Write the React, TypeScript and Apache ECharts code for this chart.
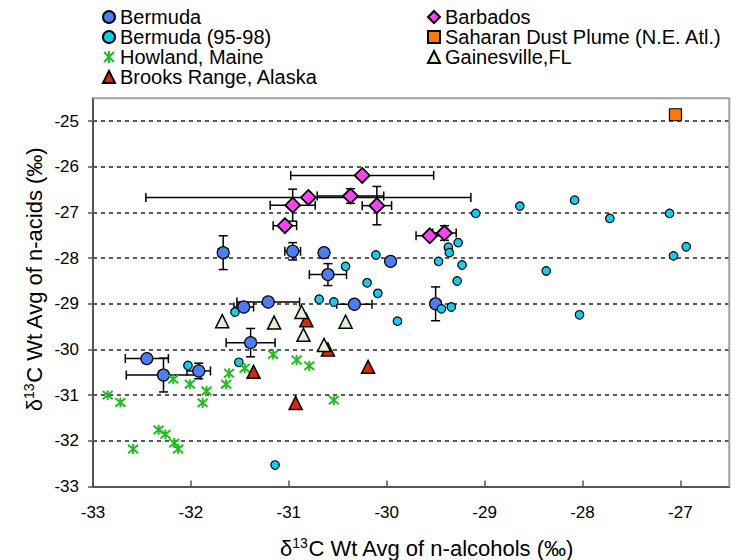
import React, { useEffect, useRef } from "react";
import * as echarts from "echarts";

// ---- data ----
const bermudaX = [-31.67, -30.96, -30.64, -29.96, -30.6, -31.21, -31.46, -30.33, -31.39, -32.45, -32.28, -31.92, -29.5];
const bermudaY = [-27.88, -27.85, -27.88, -28.07, -28.36, -28.96, -29.07, -29.01, -29.85, -30.2, -30.56, -30.47, -29.0];
const bermudaXErr = [0.05, 0.08, 0, 0, 0.19, 0.32, 0.1, 0.18, 0.25, 0.22, 0.38, 0.12, 0];
const bermudaYErr = [0.37, 0.19, 0, 0, 0.24, 0, 0, 0, 0.31, 0, 0.37, 0.17, 0.37];

const bermuda9598X = [-30.11, -30.42, -29.09, -28.64, -28.08, -27.72, -27.11, -26.94, -27.07, -29.27, -29.37, -29.36, -29.47, -29.23, -28.37, -29.28, -29.89, -29.44, -29.34, -28.03, -30.2, -30.09, -30.69, -30.54, -31.55, -31.51, -32.03, -31.14];
const bermuda9598Y = [-27.93, -28.18, -27.02, -26.86, -26.73, -27.13, -27.02, -27.75, -27.95, -27.66, -27.76, -27.88, -28.07, -28.15, -28.28, -28.5, -29.38, -29.11, -29.07, -29.24, -28.54, -28.77, -28.9, -28.96, -29.18, -30.28, -30.35, -32.53];

const howlandX = [-32.85, -32.72, -32.59, -32.33, -32.26, -32.17, -32.13, -32.18, -32.01, -31.84, -31.88, -31.64, -31.61, -31.45, -31.16, -30.92, -30.79, -30.54];
const howlandY = [-31.0, -31.16, -32.18, -31.76, -31.86, -32.05, -32.18, -30.65, -30.76, -30.91, -31.17, -30.76, -30.52, -30.41, -30.11, -30.23, -30.36, -31.11];

const brooksX = [-30.82, -30.6, -31.36, -30.19, -30.93];
const brooksY = [-29.36, -30.0, -30.49, -30.38, -31.17];

const barbadosX = [-30.25, -30.8, -30.37, -30.1, -30.96, -31.04, -29.56, -29.41];
const barbadosY = [-26.19, -26.67, -26.64, -26.85, -26.84, -27.29, -27.51, -27.45];
const barbadosXErr = [0.73, 1.66, 0.34, 0.15, 0.23, 0.12, 0.14, 0.12];
const barbadosYErr = [0, 0, 0.16, 0.42, 0.35, 0, 0, 0.16];

const saharanX = [-27.05];
const saharanY = [-24.86];

const gainesvilleX = [-31.68, -31.15, -30.87, -30.85, -30.42, -30.64];
const gainesvilleY = [-29.38, -29.41, -29.18, -29.68, -29.39, -29.9];

const xTicks = [-33, -32, -31, -30, -29, -28, -27];
const yTicks = [-33, -32, -31, -30, -29, -28, -27, -26, -25];

const FONT = "'Liberation Sans', Arial, Helvetica, sans-serif";

const zip = (xs: number[], ys: number[]) => xs.map((x, i) => [x, ys[i]]);

export default function App() {
  const ref = useRef<HTMLDivElement>(null);

  useEffect(() => {
    if (!ref.current) return;
    const chart = echarts.init(ref.current, null, { renderer: "svg" });

    const errData = [
      ...bermudaX.map((x, i) => [x, bermudaY[i], bermudaXErr[i], bermudaYErr[i]]),
      ...barbadosX.map((x, i) => [x, barbadosY[i], barbadosXErr[i], barbadosYErr[i]]),
    ];

    const cap = 4.5;
    const lineStyle = { stroke: "#000", lineWidth: 1.5 };

    const asterisk = "path://M0,0L10,10M10,0L0,10M5,-1L5,11";

    const option: any = {
      animation: false,
      backgroundColor: "#fff",
      textStyle: { fontFamily: FONT },
      grid: {
        left: 93,
        right: 11.7,
        top: 98.3,
        bottom: 73.5,
        containLabel: false,
        outerBoundsMode: "none",
      },
      legend: [
        {
          left: 102,
          top: 7,
          orient: "vertical",
          padding: 0,
          itemGap: 0,
          itemWidth: 12,
          itemHeight: 12,
          itemTextGap: 8,
          selectedMode: false,
          textStyle: { fontSize: 20, lineHeight: 20, color: "#000", fontFamily: FONT },
          data: ["Bermuda", "Bermuda (95-98)", "Howland, Maine", "Brooks Range, Alaska"],
        },
        {
          left: 427,
          top: 7,
          orient: "vertical",
          padding: 0,
          itemGap: 0,
          itemWidth: 12,
          itemHeight: 12,
          itemTextGap: 7,
          selectedMode: false,
          textStyle: { fontSize: 20, lineHeight: 20, color: "#000", fontFamily: FONT },
          data: ["Barbados", "Saharan Dust Plume (N.E. Atl.)", "Gainesville,FL"],
        },
      ],
      xAxis: {
        type: "value",
        min: -33,
        max: -26.5,
        interval: 1,
        axisLine: { show: true, onZero: false, lineStyle: { color: "#555", width: 2 } },
        axisTick: { show: true, inside: true, length: 6, lineStyle: { color: "#555", width: 1.5 }, customValues: xTicks },
        axisLabel: {
          customValues: xTicks,
          margin: 17,
          fontSize: 17,
          color: "#000",
          fontFamily: FONT,
        },
        splitLine: { show: false },
      },
      yAxis: {
        type: "value",
        min: -33,
        max: -24.5,
        interval: 1,
        axisLine: { show: true, onZero: false, lineStyle: { color: "#555", width: 2 } },
        axisTick: { show: true, inside: false, length: 5, lineStyle: { color: "#555", width: 1.5 }, customValues: yTicks },
        axisLabel: {
          customValues: yTicks,
          margin: 14,
          fontSize: 17,
          color: "#000",
          fontFamily: FONT,
        },
        splitLine: { show: true, lineStyle: { color: "#222", type: [4, 4], width: 1.5 } },
      },
      series: [
        {
          name: "errorbars",
          type: "custom",
          z: 1,
          silent: true,
          encode: { x: 0, y: 1 },
          data: errData,
          renderItem: (params: any, api: any) => {
            const x = api.value(0);
            const y = api.value(1);
            const ex = api.value(2);
            const ey = api.value(3);
            const children: any[] = [];
            if (ex > 0) {
              const l = api.coord([x - ex, y]);
              const r = api.coord([x + ex, y]);
              children.push({ type: "line", shape: { x1: l[0], y1: l[1], x2: r[0], y2: r[1] }, style: lineStyle });
              children.push({ type: "line", shape: { x1: l[0], y1: l[1] - cap, x2: l[0], y2: l[1] + cap }, style: lineStyle });
              children.push({ type: "line", shape: { x1: r[0], y1: r[1] - cap, x2: r[0], y2: r[1] + cap }, style: lineStyle });
            }
            if (ey > 0) {
              const t = api.coord([x, y + ey]);
              const b = api.coord([x, y - ey]);
              children.push({ type: "line", shape: { x1: t[0], y1: t[1], x2: b[0], y2: b[1] }, style: lineStyle });
              children.push({ type: "line", shape: { x1: t[0] - cap, y1: t[1], x2: t[0] + cap, y2: t[1] }, style: lineStyle });
              children.push({ type: "line", shape: { x1: b[0] - cap, y1: b[1], x2: b[0] + cap, y2: b[1] }, style: lineStyle });
            }
            return { type: "group", children };
          },
        },
        {
          name: "Bermuda",
          type: "scatter",
          z: 3,
          symbol: "circle",
          symbolSize: 12,
          itemStyle: { color: "#4a7ef2", borderColor: "#000", borderWidth: 1.2, opacity: 1 },
          data: zip(bermudaX, bermudaY),
        },
        {
          name: "Bermuda (95-98)",
          type: "scatter",
          z: 3,
          symbol: "circle",
          symbolSize: 8.5,
          itemStyle: { color: "#12cdf2", borderColor: "#000", borderWidth: 1.2, opacity: 1 },
          data: zip(bermuda9598X, bermuda9598Y),
        },
        {
          name: "Howland, Maine",
          type: "scatter",
          z: 3,
          symbol: asterisk,
          symbolSize: 10,
          itemStyle: { color: "rgba(0,0,0,0)", borderColor: "#1fbf1f", borderWidth: 2, opacity: 1 },
          data: zip(howlandX, howlandY),
        },
        {
          name: "Brooks Range, Alaska",
          type: "scatter",
          z: 3,
          symbol: "triangle",
          symbolSize: 13,
          itemStyle: { color: "#e02408", borderColor: "#000", borderWidth: 1.5, opacity: 1 },
          data: zip(brooksX, brooksY),
        },
        {
          name: "Barbados",
          type: "scatter",
          z: 3,
          symbol: "diamond",
          symbolSize: 15,
          itemStyle: { color: "#ff40f5", borderColor: "#000", borderWidth: 1.8, opacity: 1 },
          data: zip(barbadosX, barbadosY),
        },
        {
          name: "Saharan Dust Plume (N.E. Atl.)",
          type: "scatter",
          z: 3,
          symbol: "rect",
          symbolSize: 12,
          itemStyle: { color: "#ff7b00", borderColor: "#000", borderWidth: 1.2, opacity: 1 },
          data: zip(saharanX, saharanY),
        },
        {
          name: "Gainesville,FL",
          type: "scatter",
          z: 3,
          symbol: "triangle",
          symbolSize: 13,
          itemStyle: { color: "#dcf5d4", borderColor: "#000", borderWidth: 1.5, opacity: 1 },
          data: zip(gainesvilleX, gainesvilleY),
        },
      ],
      graphic: [
        {
          type: "polyline",
          z: 100,
          silent: true,
          shape: { points: [[93, 98.3], [729.3, 98.3], [729.3, 486.5]] },
          style: { stroke: "#a0a0a0", lineWidth: 2, fill: "none" },
        },
        {
          type: "text",
          x: 427,
          y: 548,
          z: 100,
          style: {
            text: "{a|δ}{s|13}{a|C Wt Avg of n-alcohols (‰)}",
            align: "center",
            verticalAlign: "middle",
            fill: "#000",
            rich: {
              a: { fontSize: 22, fontFamily: FONT, lineHeight: 24, fill: "#000" },
              s: { fontSize: 14, fontFamily: FONT, lineHeight: 24, verticalAlign: "top", fill: "#000" },
            },
          },
        },
        {
          type: "text",
          x: 34,
          y: 279,
          z: 100,
          rotation: Math.PI / 2,
          style: {
            text: "{a|δ}{s|13}{a|C Wt Avg of n-acids (‰)}",
            align: "center",
            verticalAlign: "middle",
            fill: "#000",
            rich: {
              a: { fontSize: 22, fontFamily: FONT, lineHeight: 24, fill: "#000" },
              s: { fontSize: 14, fontFamily: FONT, lineHeight: 24, verticalAlign: "top", fill: "#000" },
            },
          },
        },
      ],
    };

    chart.setOption(option);
    return () => chart.dispose();
  }, []);

  return (
    <div
      ref={ref}
      style={{ position: "fixed", left: 0, top: 0, width: 741, height: 560, background: "#fff" }}
    />
  );
}
